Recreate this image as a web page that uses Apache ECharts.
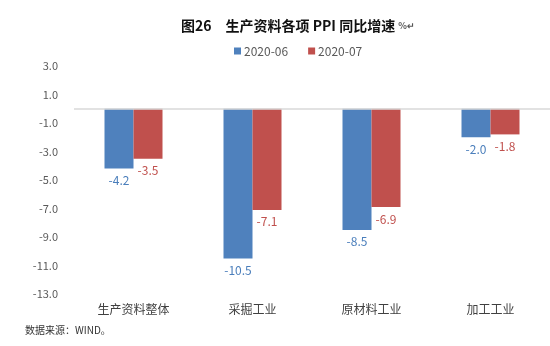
<!DOCTYPE html>
<html><head><meta charset="utf-8">
<script src="https://cdn.jsdelivr.net/npm/echarts@6/dist/echarts.min.js"></script>
<style>html,body{margin:0;padding:0;background:#fff}#c{width:550px;height:346px}</style>
</head><body><div id="c"></div>
<script>
const categories = ['生产资料整体', '采掘工业', '原材料工业', '加工工业'];
const seriesNames = ['2020-06', '2020-07'];
const june = [-4.2, -10.5, -8.5, -2.0];
const july = [-3.5, -7.1, -6.9, -1.8];
const colors = ['#4F81BD', '#C0504D'];
const labelColors = ['#4A7EBB', '#C0504D'];

const chart = echarts.init(document.getElementById('c'));
const font = '"Noto Sans CJK SC", "Liberation Sans", sans-serif';
function mk(name, data, i) {
  return {
    name: name, type: 'bar', data: data, barWidth: 29, barGap: '0%',
    itemStyle: { color: colors[i] },
    label: { show: true, position: 'bottom', distance: 6, color: labelColors[i],
      fontSize: 12, fontFamily: font, formatter: p => p.value.toFixed(1) }
  };
}
chart.setOption({
  animation: false,
  title: {
    text: '{a|图26　生产资料各项 PPI 同比增速 }{b|%↵}',
    left: 176, top: 14,
    textStyle: { rich: {
      a: { fontSize: 14, fontWeight: 'bold', color: '#111', fontFamily: font },
      b: { fontSize: 9, color: '#555', fontFamily: font }
    } }
  },
  legend: {
    top: 40, left: 229, itemWidth: 7, itemHeight: 7, itemGap: 20,
    icon: 'rect', data: seriesNames,
    textStyle: { fontSize: 12, color: '#595959', fontFamily: font, padding: [0, 0, 0, -2] }
  },
  graphic: [{ type: 'text', left: 25, top: 325,
    style: { text: '数据来源：WIND。', fontSize: 10, fill: '#333', fontFamily: font } }],
  grid: { left: 74, width: 484, top: 66, height: 228 },
  xAxis: {
    type: 'category', data: categories, position: 'bottom',
    axisLine: { show: false }, axisTick: { show: false },
    axisLabel: { fontSize: 12, color: '#404040', fontFamily: font, margin: 9 }
  },
  yAxis: {
    type: 'value', min: -13, max: 3, interval: 2,
    axisLine: { show: false }, axisTick: { show: false },
    splitLine: { show: false },
    axisLabel: { fontSize: 11, color: '#595959', fontFamily: font, margin: 16,
      formatter: v => v.toFixed(1) }
  },
  series: [mk(seriesNames[0], june, 0), mk(seriesNames[1], july, 1),
    { type: 'line', data: [], markLine: { silent: true, symbol: 'none', label: { show: false },
      lineStyle: { color: '#D9D9D9', width: 1.5, type: 'solid' }, data: [{ yAxis: 0 }] } }]
});
</script></body></html>
